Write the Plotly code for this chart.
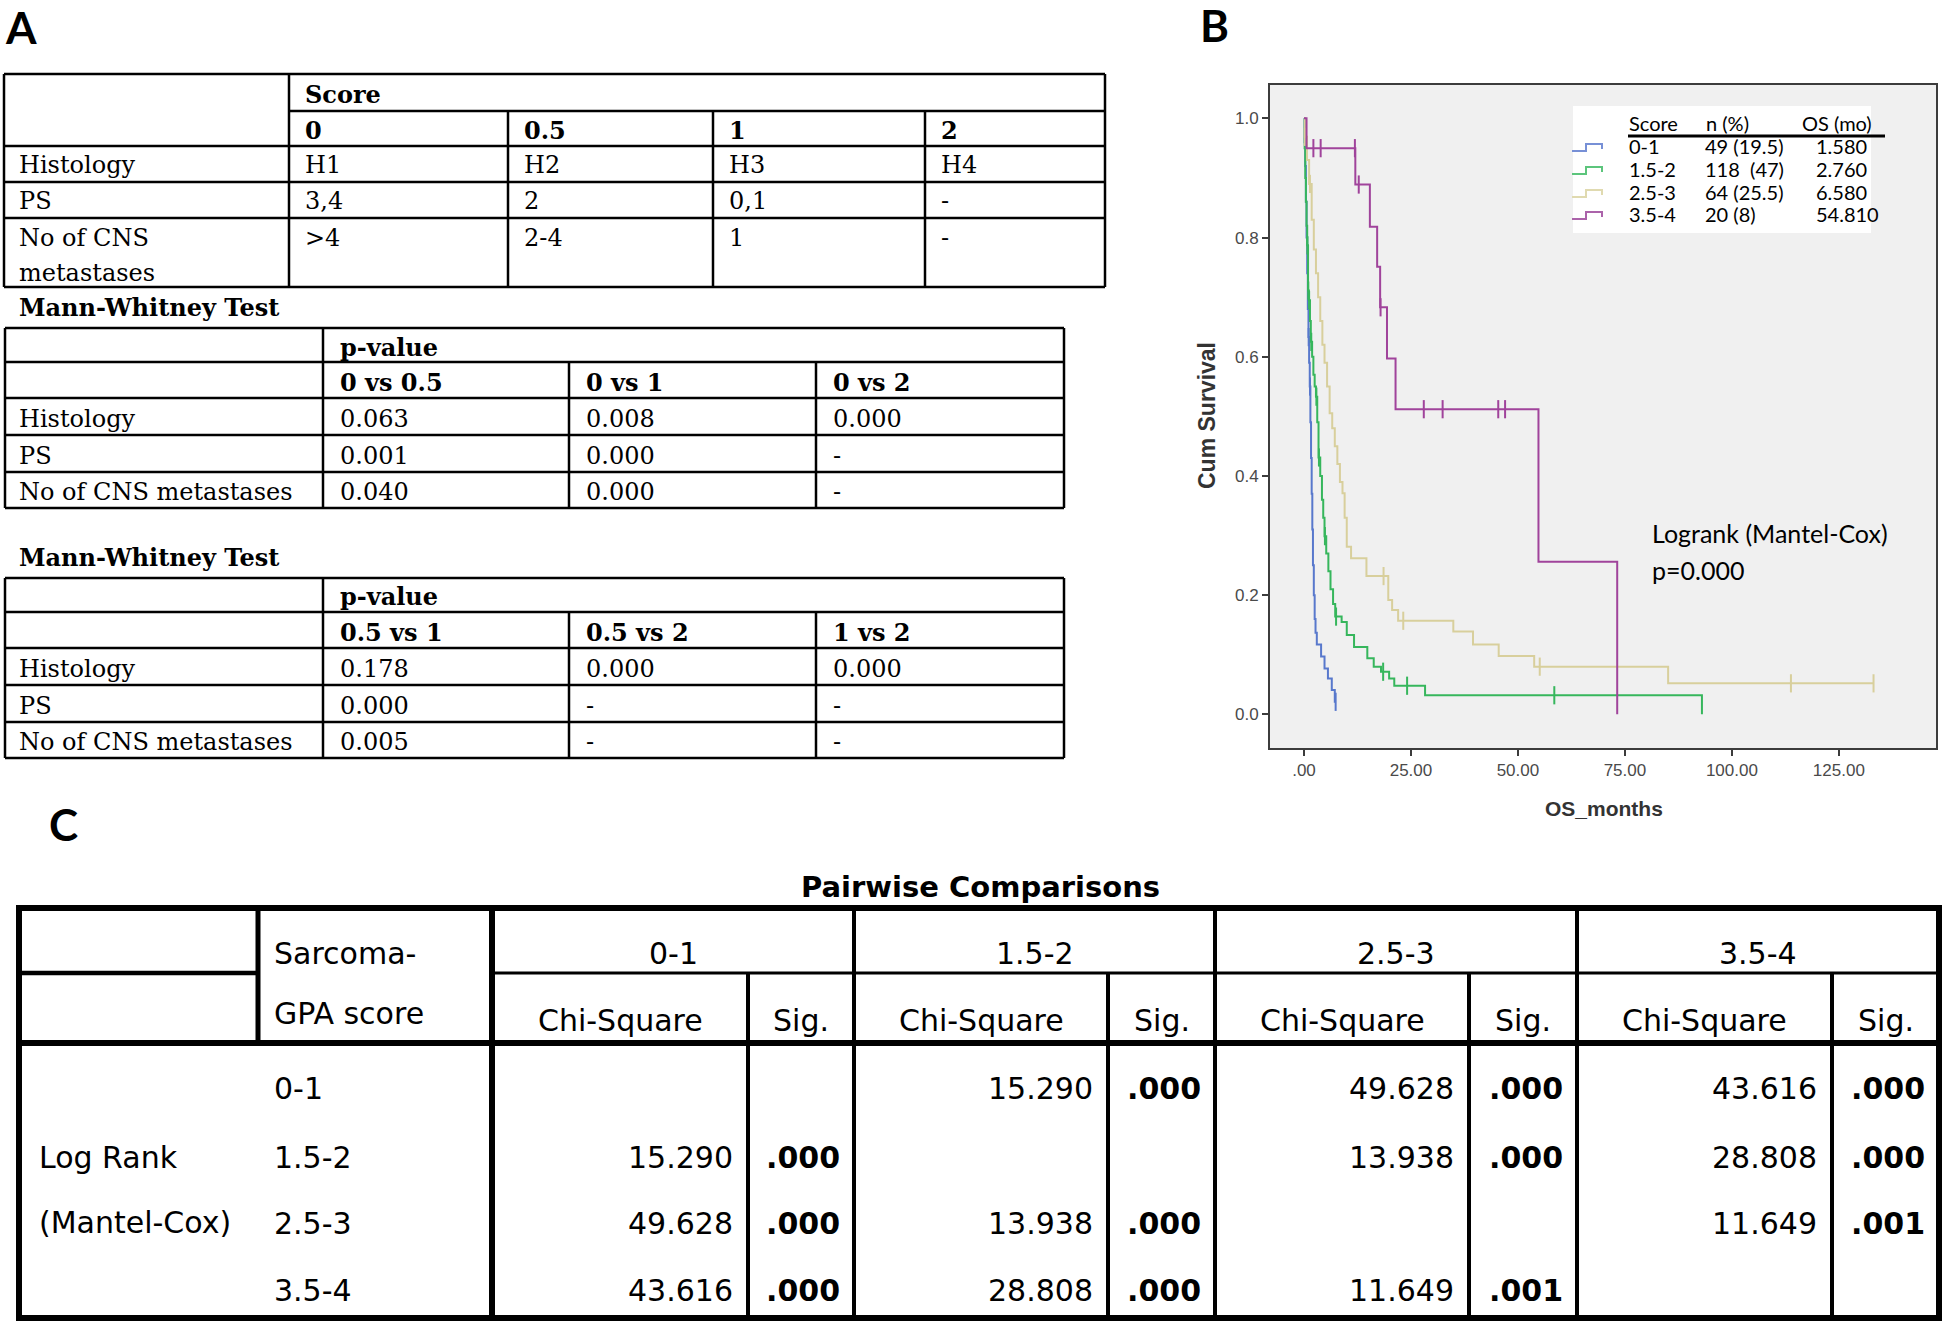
import plotly.graph_objects as go

W, H = 1946, 1324
SERIF = "DejaVu Serif"
SANS = "Liberation Sans"
TAB = "DejaVu Sans"
CAL = "Lato"

# ---------------- panel A data ----------------
score_levels = ["0", "0.5", "1", "2"]
score_items = ["Histology", "PS", "No of CNS metastases"]
histology_pts = ["H1", "H2", "H3", "H4"]
ps_pts = ["3,4", "2", "0,1", "-"]
cns_pts = [">4", "2-4", "1", "-"]

mw1_pairs = ["0 vs 0.5", "0 vs 1", "0 vs 2"]
mw1_p = [["0.063", "0.008", "0.000"],
         ["0.001", "0.000", "-"],
         ["0.040", "0.000", "-"]]
mw2_pairs = ["0.5 vs 1", "0.5 vs 2", "1 vs 2"]
mw2_p = [["0.178", "0.000", "0.000"],
         ["0.000", "-", "-"],
         ["0.005", "-", "-"]]

# ---------------- panel B data ----------------
km_groups = ["0-1", "1.5-2", "2.5-3", "3.5-4"]
km_n = ["49 (19.5)", "118\u00a0 (47)", "64 (25.5)", "20 (8)"]
km_os = ["1.580", "2.760", "6.580", "54.810"]
km_colors = ["#5878cc", "#36b65c", "#d8cf9c", "#a0439b"]
km_icon_colors = ["#7790d6", "#5cc57c", "#e0dab0", "#ab63aa"]

t_01 = [0, 0.15, 0.3, 0.45, 0.6, 0.75, 0.9, 1.05, 1.2, 1.35, 1.5, 1.65, 1.8, 1.95,
        2.1, 2.3, 2.5, 2.7, 3.0, 4.0, 4.8, 5.6, 6.5, 7.2, 7.4]
s_01 = [1.0, 0.96, 0.92, 0.86, 0.80, 0.74, 0.68, 0.633, 0.59, 0.55, 0.49, 0.43, 0.37, 0.31,
        0.25, 0.20, 0.16, 0.137, 0.117, 0.097, 0.077, 0.06, 0.041, 0.021, 0.021]
cx_01 = [1.1, 1.4, 7.4]
cy_01 = [0.633, 0.55, 0.021]

t_152 = [0, 0.15, 0.3, 0.45, 0.6, 0.75, 0.95, 1.15, 1.4, 1.6, 1.9, 2.2, 2.5, 2.8, 3.1, 3.4,
         3.8, 4.2, 4.5, 4.8, 5.2, 5.7, 6.2, 6.8, 7.3, 8.8, 10.0, 11.7, 14.8, 16.3, 18.0,
         19.9, 21.1, 28.3, 93.0]
s_152 = [1.0, 0.95, 0.90, 0.86, 0.82, 0.787, 0.711, 0.695, 0.66, 0.625, 0.60, 0.57, 0.55,
         0.533, 0.49, 0.431, 0.40, 0.36, 0.33, 0.299, 0.27, 0.24, 0.21, 0.185, 0.164, 0.155,
         0.133, 0.113, 0.094, 0.08, 0.0715, 0.06, 0.048, 0.032, 0.0]
cx_152 = [0.8, 1.0, 1.2, 1.7, 2.9, 3.5, 4.9, 7.5, 18.5, 24.1, 58.5]
cy_152 = [0.787, 0.711, 0.695, 0.625, 0.533, 0.431, 0.299, 0.164, 0.0715, 0.048, 0.032]

t_253 = [0, 0.2, 0.7, 1.2, 1.8, 2.3, 2.8, 3.3, 3.8, 4.3, 4.8, 5.4, 6.0, 6.6, 7.2, 7.8, 8.4,
         9.0, 9.5, 10.0, 11.0, 14.6, 19.7, 20.6, 22.0, 34.9, 39.5, 45.5, 53.8, 85.1, 133.1]
s_253 = [1.0, 0.969, 0.93, 0.89, 0.83, 0.78, 0.74, 0.70, 0.66, 0.62, 0.59, 0.55, 0.505,
         0.48, 0.45, 0.42, 0.39, 0.371, 0.33, 0.281, 0.262, 0.232, 0.192, 0.175, 0.157,
         0.139, 0.117, 0.098, 0.080, 0.052, 0.052]
cx_253 = [0.2, 1.4, 18.6, 23.2, 55.1, 113.8, 133.1]
cy_253 = [0.969, 0.89, 0.232, 0.157, 0.080, 0.052, 0.052]

t_354 = [0, 0.6, 12.0, 15.4, 17.1, 17.8, 19.4, 21.4, 54.8, 73.2]
s_354 = [1.0, 0.95, 0.889, 0.818, 0.751, 0.683, 0.597, 0.512, 0.256, 0.0]
cx_354 = [2.2, 3.9, 11.9, 12.8, 17.9, 28.0, 32.4, 45.4, 47.0]
cy_354 = [0.95, 0.95, 0.95, 0.889, 0.683, 0.512, 0.512, 0.512, 0.512]

x_ticks = [0, 25, 50, 75, 100, 125]
x_ticklabels = [".00", "25.00", "50.00", "75.00", "100.00", "125.00"]
y_ticks = [0, 0.2, 0.4, 0.6, 0.8, 1.0]
y_ticklabels = ["0.0", "0.2", "0.4", "0.6", "0.8", "1.0"]

# ---------------- panel C data ----------------
gpa_groups = ["0-1", "1.5-2", "2.5-3", "3.5-4"]
chi_sq = [[None, 15.290, 49.628, 43.616],
          [15.290, None, 13.938, 28.808],
          [49.628, 13.938, None, 11.649],
          [43.616, 28.808, 11.649, None]]
sig = [[None, ".000", ".000", ".000"],
       [".000", None, ".000", ".000"],
       [".000", ".000", None, ".001"],
       [".000", ".000", ".001", None]]


def fx(x):
    return x / W


def fy(y):
    return 1 - y / H


annotations = []
shapes = []


def text(x, y, s, size=24, family=SERIF, bold=False, anchor="left", color="black",
         angle=0, vanchor="middle"):
    if bold:
        s = f"<b>{s}</b>"
    annotations.append(dict(
        x=fx(x), y=fy(y), xref="paper", yref="paper", text=s, showarrow=False,
        xanchor=anchor, yanchor=vanchor, textangle=angle, borderpad=0,
        font=dict(family=family, size=size, color=color)))


def line(x0, y0, x1, y1, w=2.5, color="black"):
    shapes.append(dict(type="line", xref="paper", yref="paper", layer="above",
                       x0=fx(x0), y0=fy(y0), x1=fx(x1), y1=fy(y1),
                       line=dict(color=color, width=w)))


# ---------------- panel letters ----------------
text(21, 0, "A", size=44, family=CAL, bold=True, anchor="center", vanchor="top")
text(1214, 25, "B", size=44, family=CAL, bold=True, anchor="center")
text(63, 824, "C", size=44, family=CAL, bold=True, anchor="center")

# ---------------- table A1 ----------------
c1 = [4, 289, 508, 713, 925, 1105]
r1 = [74, 111, 146, 182, 218, 287]
line(c1[0], r1[0], c1[-1], r1[0])
line(c1[1], r1[1], c1[-1], r1[1])
for r in r1[2:]:
    line(c1[0], r, c1[-1], r)
for c in (c1[0], c1[1], c1[-1]):
    line(c, r1[0], c, r1[-1])
for c in c1[2:-1]:
    line(c, r1[1], c, r1[-1])
text(c1[1] + 15, 94, "Score", bold=True)
for j, lev in enumerate(score_levels):
    text(c1[j + 1] + 15, 130, lev, bold=True)
row_y1 = [165, 201]
for i, vals in enumerate([histology_pts, ps_pts]):
    text(18, row_y1[i], score_items[i])
    for j, v in enumerate(vals):
        text(c1[j + 1] + 15, row_y1[i], v)
first, second = score_items[2].rsplit(" ", 1)
text(18, 238, first)
text(18, 273, second)
for j, v in enumerate(cns_pts):
    text(c1[j + 1] + 15, 238, v)


# ---------------- Mann-Whitney tables ----------------
def mw_table(top, pairs, pvals):
    cols = [5, 323, 569, 816, 1064]
    rows = [top, top + 34, top + 70, top + 107, top + 144, top + 180]
    text(18, top - 21, "Mann-Whitney Test", bold=True)
    for r in rows:
        line(cols[0], r, cols[-1], r)
    for c in (cols[0], cols[1], cols[-1]):
        line(c, rows[0], c, rows[-1])
    for c in cols[2:-1]:
        line(c, rows[1], c, rows[-1])
    text(cols[1] + 16, (rows[0] + rows[1]) / 2 + 2, "p-value", bold=True)
    for j, p in enumerate(pairs):
        text(cols[j + 1] + 16, (rows[1] + rows[2]) / 2 + 2, p, bold=True)
    for i, item in enumerate(score_items):
        yc = (rows[i + 2] + rows[i + 3]) / 2 + 2
        text(18, yc, item)
        for j, v in enumerate(pvals[i]):
            text(cols[j + 1] + 16, yc, v)


mw_table(328, mw1_pairs, mw1_p)
mw_table(578, mw2_pairs, mw2_p)

# ---------------- panel B: Kaplan-Meier ----------------
fig = go.Figure()
curves = [(t_01, s_01, cx_01, cy_01), (t_152, s_152, cx_152, cy_152),
          (t_253, s_253, cx_253, cy_253), (t_354, s_354, cx_354, cy_354)]
for (t, s, cx, cy), col, name in zip(curves, km_colors, km_groups):
    fig.add_trace(go.Scatter(x=t, y=s, mode="lines", name=name,
                             line=dict(shape="hv", color=col, width=2)))
    fig.add_trace(go.Scatter(x=cx, y=cy, mode="markers", name=name + " censored",
                             marker=dict(symbol="line-ns", size=13, color=col,
                                         line=dict(width=2, color=col))))

# legend box
shapes.append(dict(type="rect", xref="paper", yref="paper", layer="above",
                   x0=fx(1573), x1=fx(1871), y0=fy(233), y1=fy(106),
                   fillcolor="white", line=dict(width=0)))
text(1628, 123, "Score", size=20, family=CAL)
text(1705, 123, "n (%)", size=20, family=CAL)
text(1801, 123, "OS (mo)", size=20, family=CAL)
line(1628, 136, 1885, 136, w=3)
leg_y = [146, 169, 192, 214]
for i, g in enumerate(km_groups):
    yc = leg_y[i]
    text(1628, yc, g, size=20, family=CAL)
    text(1704, yc, km_n[i], size=20, family=CAL)
    text(1815, yc, km_os[i], size=20, family=CAL)
    yb, yt = yc + 5, yc - 2
    path = (f"M {fx(1572)} {fy(yb)} L {fx(1586)} {fy(yb)} L {fx(1586)} {fy(yt)} "
            f"L {fx(1602)} {fy(yt)} L {fx(1602)} {fy(yc + 3)}")
    shapes.append(dict(type="path", xref="paper", yref="paper", layer="above", path=path,
                       line=dict(color=km_icon_colors[i], width=2)))

text(1651, 533, "Logrank (Mantel-Cox)", size=25, family=CAL)
text(1651, 570, "p=0.000", size=25, family=CAL)
text(1207, 416, "Cum Survival", size=23, family=SANS, bold=True, anchor="center",
     color="#333333", angle=-90)
text(1604, 808, "OS_months", size=21, family=SANS, bold=True, anchor="center",
     color="#333333")

# ---------------- panel C: pairwise comparisons ----------------
cc = [19, 258, 492, 748, 854, 1108, 1215, 1469, 1577, 1832, 1939]
top_c, mid_c, head_c, bot_c = 908, 973, 1043, 1318
THICK, THIN = 6, 4
text(980, 887, "Pairwise Comparisons", size=29, family=TAB, bold=True, anchor="center")
line(cc[0] - 3, top_c, cc[-1] + 3, top_c, THICK)
line(cc[0] - 3, bot_c, cc[-1] + 3, bot_c, THICK)
line(cc[0] - 3, head_c, cc[-1] + 3, head_c, THICK)
line(cc[0], mid_c, cc[1], mid_c, 4.5)
line(cc[2], mid_c, cc[-1], mid_c, 3)
line(cc[0], top_c, cc[0], bot_c, THICK)
line(cc[-1], top_c, cc[-1], bot_c, THICK)
line(cc[1], top_c, cc[1], head_c, 5)
line(cc[2], top_c, cc[2], bot_c, THICK)
for k in range(4):
    left, mid, right = cc[2 + 2 * k], cc[3 + 2 * k], cc[4 + 2 * k]
    line(mid, mid_c, mid, bot_c, THIN)
    if k < 3:
        line(right, top_c, right, bot_c, THIN)
    text((left + right) / 2, 953, gpa_groups[k], size=30, family=TAB, anchor="center")
    text((left + mid) / 2, 1020, "Chi-Square", size=30, family=TAB, anchor="center")
    text((mid + right) / 2, 1020, "Sig.", size=30, family=TAB, anchor="center")

text(cc[1] + 15, 953, "Sarcoma-", size=30, family=TAB)
text(cc[1] + 15, 1013, "GPA score", size=30, family=TAB)
text(cc[0] + 19, 1157, "Log Rank", size=30, family=TAB)
text(cc[0] + 19, 1222, "(Mantel-Cox)", size=30, family=TAB)
row_c = [1088, 1157, 1223, 1290]
for i, g in enumerate(gpa_groups):
    text(cc[1] + 15, row_c[i], g, size=30, family=TAB)
    for k in range(4):
        if chi_sq[i][k] is None:
            continue
        mid, right = cc[3 + 2 * k], cc[4 + 2 * k]
        text(mid - 14, row_c[i], f"{chi_sq[i][k]:.3f}", size=30, family=TAB, anchor="right")
        text(right - 13, row_c[i], sig[i][k], size=30, family=TAB, bold=True, anchor="right")

fig.update_layout(
    width=W, height=H,
    margin=dict(l=0, r=0, t=0, b=0),
    paper_bgcolor="white",
    plot_bgcolor="#f0f0f0",
    showlegend=False,
    annotations=annotations,
    shapes=shapes,
)
fig.update_xaxes(
    domain=[fx(1270), fx(1936)], range=[-7.94, 147.7],
    tickvals=x_ticks, ticktext=x_ticklabels,
    showgrid=False, zeroline=False, showline=True, mirror=True,
    linecolor="#3c3c3c", linewidth=2, ticks="outside", ticklen=6, tickwidth=2,
    tickcolor="#3c3c3c", tickfont=dict(family=SANS, size=17, color="#4a4a4a"),
)
fig.update_yaxes(
    domain=[fy(748), fy(85)], range=[-0.0565, 1.056],
    tickvals=y_ticks, ticktext=y_ticklabels,
    showgrid=False, zeroline=False, showline=True, mirror=True,
    linecolor="#3c3c3c", linewidth=2, ticks="outside", ticklen=6, tickwidth=2,
    tickcolor="#3c3c3c", tickfont=dict(family=SANS, size=17, color="#4a4a4a"),
)

# the page body has a default 8px margin; remove it so the figure sits at the corner
fig.write_html("out.html", config={"displayModeBar": False},
               post_script="document.body.style.margin='0px';")
